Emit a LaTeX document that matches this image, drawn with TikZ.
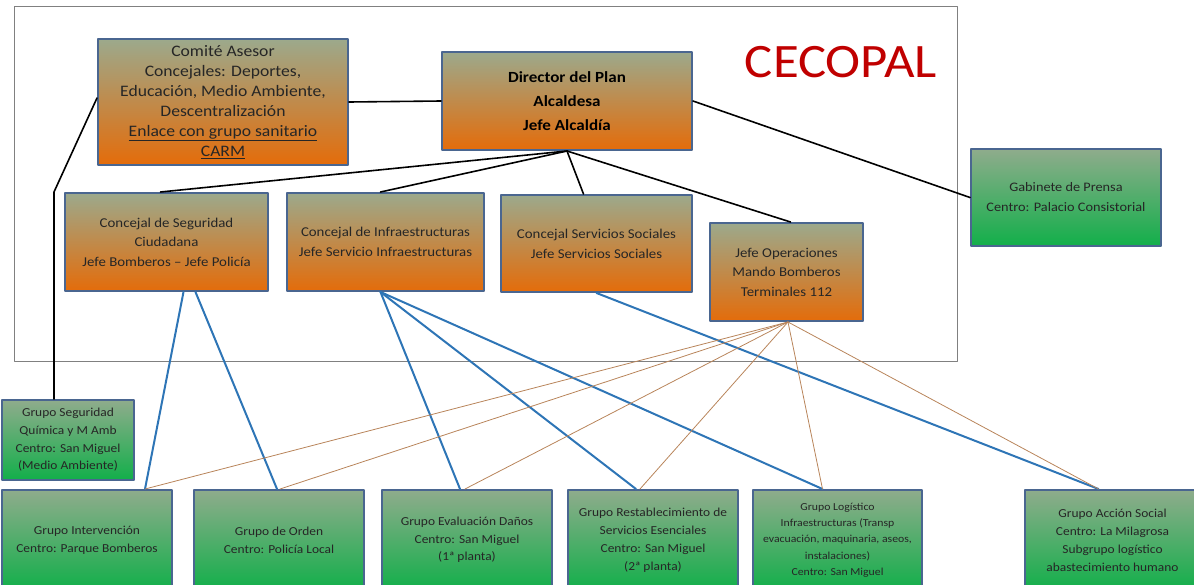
\documentclass[tikz,border=0pt]{standalone}
\usepackage{fontspec}
\setmainfont{Carlito}[FakeStretch=1.1]
\definecolor{bordeazul}{HTML}{4A6690}
\definecolor{naranjaarriba}{HTML}{9CA98C}
\definecolor{naranjaabajo}{HTML}{E46C0A}
\definecolor{verdearriba}{HTML}{8FAC8C}
\definecolor{verdeabajo}{HTML}{12AF4A}
\definecolor{texto}{HTML}{262626}
\definecolor{lineaazul}{HTML}{2E75B6}
\definecolor{lineamarron}{HTML}{B8845A}
\definecolor{rojocecopal}{HTML}{C00000}
\begin{document}
\begin{tikzpicture}[x=1pt,y=-1pt,line join=round,line cap=round,
	caja/.style={draw=bordeazul,line width=2pt,align=center,text=texto,inner sep=2pt},
	naranja/.style={caja,top color=naranjaarriba,bottom color=naranjaabajo},
	verde/.style={caja,top color=verdearriba,bottom color=verdeabajo},
	mando/.style={line width=1.6pt,black},
	azul/.style={line width=2pt,lineaazul},
	marron/.style={line width=0.8pt,lineamarron}]
	\useasboundingbox (0,0) rectangle (1194,584);
	\clip (0,0) rectangle (1194,584);
	% marco CECOPAL
	\draw[gray,line width=0.8pt] (14,6) rectangle (957,361);
	\node[text=rojocecopal,font=\fontsize{48}{48}\selectfont] (titulo) at (841,62) {CECOPAL};
	% cabecera
	\node[naranja,minimum width=250pt,minimum height=126pt,font=\fontsize{16}{20}\selectfont] (comite) at (223,102)
		{Comité Asesor\\Concejales: Deportes,\\Educación, Medio Ambiente,\\Descentralización\\\underline{Enlace con grupo sanitario}\\\underline{CARM}};
	\node[naranja,minimum width=250pt,minimum height=98pt,text=black,font=\bfseries\fontsize{15.5}{24}\selectfont] (director) at (567,101)
		{Director del Plan\\Alcaldesa\\Jefe Alcaldía};
	\node[verde,minimum width=190pt,minimum height=97pt,font=\fontsize{13}{20}\selectfont] (gabinete) at (1066,197.5)
		{Gabinete de Prensa\\Centro: Palacio Consistorial};
	% concejales
	\node[naranja,minimum width=203pt,minimum height=98pt,font=\fontsize{13.5}{19.5}\selectfont] (conseg) at (166.5,242)
		{Concejal de Seguridad\\Ciudadana\\Jefe Bomberos -- Jefe Policía};
	\node[naranja,minimum width=197pt,minimum height=98pt,font=\fontsize{13.5}{20}\selectfont] (coninf) at (385.5,242)
		{Concejal de Infraestructuras\\Jefe Servicio Infraestructuras};
	\node[naranja,minimum width=191pt,minimum height=97pt,font=\fontsize{13.5}{20}\selectfont] (conss) at (596.5,243.5)
		{Concejal Servicios Sociales\\Jefe Servicios Sociales};
	\node[naranja,minimum width=153pt,minimum height=98pt,font=\fontsize{13.5}{19.5}\selectfont] (jefeop) at (786.5,272)
		{Jefe Operaciones\\Mando Bomberos\\Terminales 112};
	% grupos
	\node[verde,minimum width=132pt,minimum height=80pt,font=\fontsize{12.2}{17.7}\selectfont] (gseg) at (68,440)
		{Grupo Seguridad\\Química y M Amb\\Centro: San Miguel\\(Medio Ambiente)};
	\node[verde,minimum width=170pt,minimum height=100pt,font=\fontsize{12.2}{18}\selectfont] (gint) at (87,540)
		{Grupo Intervención\\Centro: Parque Bomberos};
	\node[verde,minimum width=170pt,minimum height=100pt,font=\fontsize{12.2}{18}\selectfont] (gord) at (279,540)
		{Grupo de Orden\\Centro: Policía Local};
	\node[verde,minimum width=170pt,minimum height=100pt,font=\fontsize{12.2}{17.5}\selectfont] (geval) at (467,540)
		{Grupo Evaluación Daños\\Centro: San Miguel\\(1ª planta)};
	\node[verde,minimum width=170pt,minimum height=100pt,font=\fontsize{12.2}{18}\selectfont] (grest) at (653,540)
		{Grupo Restablecimiento de\\Servicios Esenciales\\Centro: San Miguel\\(2ª planta)};
	\node[verde,minimum width=169pt,minimum height=100pt,font=\fontsize{10.7}{16.3}\selectfont] (glog) at (837.5,540)
		{Grupo Logístico\\Infraestructuras (Transp\\evacuación, maquinaria, aseos,\\instalaciones)\\Centro: San Miguel};
	\node[verde,minimum width=175pt,minimum height=100pt,font=\fontsize{12.2}{18}\selectfont] (gsoc) at (1112.5,540)
		{Grupo Acción Social\\Centro: La Milagrosa\\Subgrupo logístico\\abastecimiento humano};
	% mando
	\draw[mando] (comite.east) -- (director.west);
	\draw[mando] (director.east) -- (gabinete.west);
	\foreach \dest/\dx in {conseg/-6,coninf/-5,conss/-13,jefeop/4}
		\draw[mando] (director.south) -- ([xshift=\dx pt]\dest.north);
	\draw[mando] ([yshift=4pt]comite.west) -- (54,192) -- (gseg.north -| 54,0);
	% lineas azules
	\draw[azul] ([xshift=17pt]conseg.south) -- ([xshift=58pt]gint.north);
	\draw[azul] ([xshift=29pt]conseg.south) -- ([xshift=-2pt]gord.north);
	\foreach \dest/\dx in {geval/-7,grest/-17,glog/-15}
		\draw[azul] ([xshift=-5pt]coninf.south) -- ([xshift=\dx pt]\dest.north);
	\draw[azul] (conss.south) -- ([xshift=-14pt]gsoc.north);
	% lineas operativas
	\foreach \dest/\dx in {gint/58,gord/1,geval/-2,grest/-13,glog/-15,gsoc/-14}
		\draw[marron] ([xshift=1.5pt]jefeop.south) -- ([xshift=\dx pt]\dest.north);
\end{tikzpicture}
\end{document}
